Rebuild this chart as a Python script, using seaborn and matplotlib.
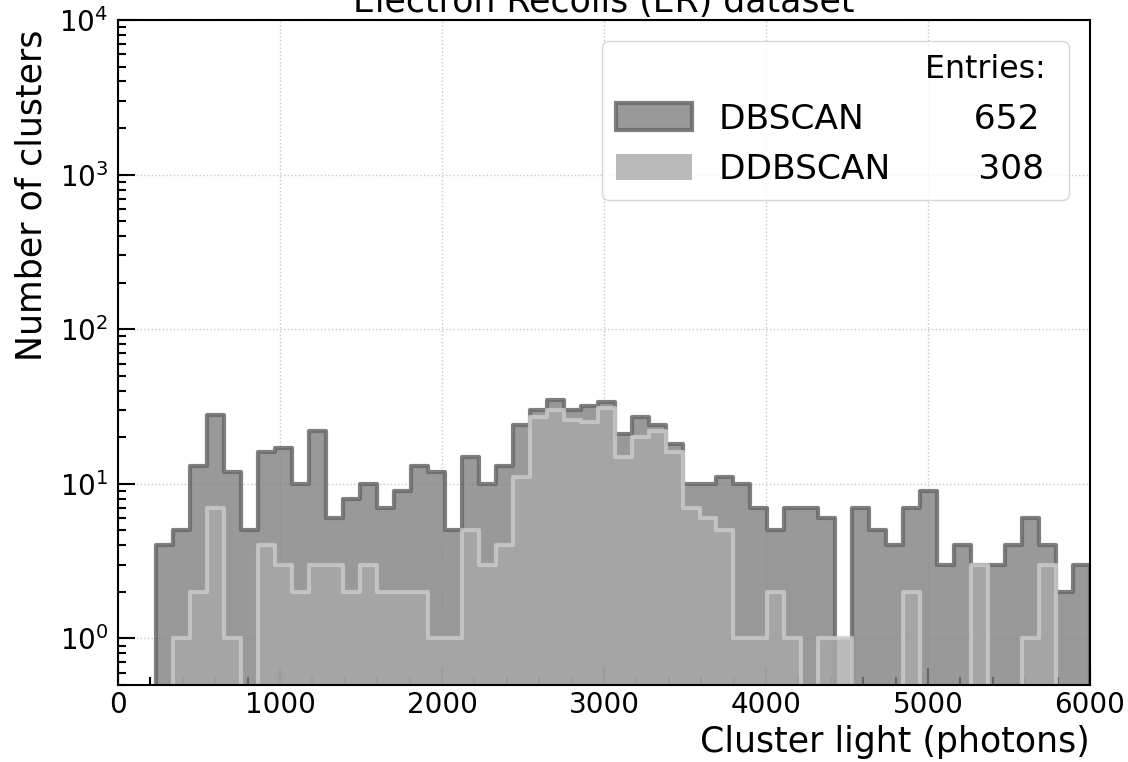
import numpy as np
import matplotlib
matplotlib.use("Agg")
import matplotlib.pyplot as plt
from matplotlib.patches import Patch
from matplotlib.colors import to_rgba
from matplotlib.ticker import MultipleLocator, LogLocator, NullFormatter
import seaborn as sns

# Histogram binning (cluster light, photons)
bin_edges = np.linspace(236, 6000, 56).tolist()

# Clusters per bin for each algorithm
dbscan_counts = [4, 5, 13, 28, 12, 5, 16, 17, 10, 22,
                 6, 8, 10, 7, 9, 13, 12, 5, 15, 10,
                 13, 24, 30, 35, 30, 32, 34, 21, 27, 24,
                 18, 10, 10, 11, 10, 7, 5, 7, 7, 6,
                 0, 7, 5, 4, 7, 9, 3, 4, 3, 3,
                 4, 6, 4, 2, 3]
ddbscan_counts = [0, 1, 2, 7, 1, 0, 4, 3, 2, 3,
                  3, 2, 3, 2, 2, 2, 1, 1, 5, 3,
                  4, 11, 27, 30, 26, 25, 31, 15, 20, 22,
                  16, 7, 6, 5, 1, 1, 2, 1, 0, 1,
                  1, 0, 0, 0, 2, 0, 0, 0, 3, 0,
                  0, 1, 3, 0, 0]
series_names = ["DBSCAN", "DDBSCAN"]

sns.set_style("white")
plt.rcParams["font.family"] = ["DejaVu Sans"]
plt.rcParams["mathtext.fontset"] = "dejavusans"
for key in ["text.color", "axes.labelcolor", "xtick.color", "ytick.color"]:
    plt.rcParams[key] = "black"

fig, ax = plt.subplots(figsize=(11.28, 7.62), dpi=100)
fig.subplots_adjust(left=0.1046, right=0.9663, top=0.9738, bottom=0.101)

edges_arr = np.asarray(bin_edges)
centers = 0.5 * (edges_arr[:-1] + edges_arr[1:])

db_face = to_rgba("gray", 0.8)
db_edge = to_rgba("dimgray", 0.85)
ddb_face = to_rgba("darkgray", 0.8)
ddb_edge = to_rgba("#cccccc", 0.8)

ax.set_yscale("log")
sns.histplot(x=centers, weights=dbscan_counts, bins=bin_edges, element="step",
             fill=True, facecolor=db_face, edgecolor=db_edge, linewidth=3, ax=ax)
sns.histplot(x=centers, weights=ddbscan_counts, bins=bin_edges, element="step",
             fill=True, facecolor=ddb_face, edgecolor=ddb_edge, linewidth=3, ax=ax)

ax.set_xlim(0, 6000)
ax.set_ylim(0.5, 1e4)

ax.xaxis.set_major_locator(MultipleLocator(1000))
ax.xaxis.set_minor_locator(MultipleLocator(200))
ax.yaxis.set_major_locator(LogLocator(base=10, numticks=10))
ax.yaxis.set_minor_locator(LogLocator(base=10, subs=np.arange(2, 10), numticks=20))
ax.yaxis.set_minor_formatter(NullFormatter())

ax.tick_params(which="both", direction="in", labelsize=20, width=1.5,
               bottom=True, left=True, top=False, right=False, color="black")
ax.tick_params(which="major", length=12)
ax.tick_params(which="minor", length=6)
ax.tick_params(axis="x", which="major", pad=4.5)
ax.tick_params(axis="y", which="major", pad=7)

ax.set_axisbelow(True)
ax.grid(True, which="major", linestyle=":", color="#c8c8c8", linewidth=1)
for sp in ax.spines.values():
    sp.set_linewidth(1.5)
    sp.set_color("black")

ax.set_xlabel("Cluster light (photons)", fontsize=25, loc="right")
ax.set_ylabel("Number of clusters", fontsize=25, loc="top", labelpad=8)
ax.yaxis.label.set_y(0.985)
ax.set_title("Electron Recoils (ER) dataset", fontsize=25, pad=6)

totals = [int(np.sum(dbscan_counts)), int(np.sum(ddbscan_counts))]
handles = [
    Patch(facecolor=db_face, edgecolor=db_edge, linewidth=3),
    Patch(facecolor=ddb_face, edgecolor=ddb_face, linewidth=0),
]
legend_labels = [
    f"{series_names[0]}" + " " * 10 + f"{totals[0]} ",
    f"{series_names[1]}" + " " * 8 + f"{totals[1]} ",
]
ax.legend(handles, legend_labels, loc="upper right", fontsize=24.8, title="Entries: ",
          title_fontsize=22.7, alignment="right", handlelength=2.2, handleheight=0.8,
          borderpad=0.4, borderaxespad=0.6,
          frameon=True, fancybox=True, edgecolor="#cccccc", framealpha=0.8)

fig.savefig("out.png", dpi=100)
